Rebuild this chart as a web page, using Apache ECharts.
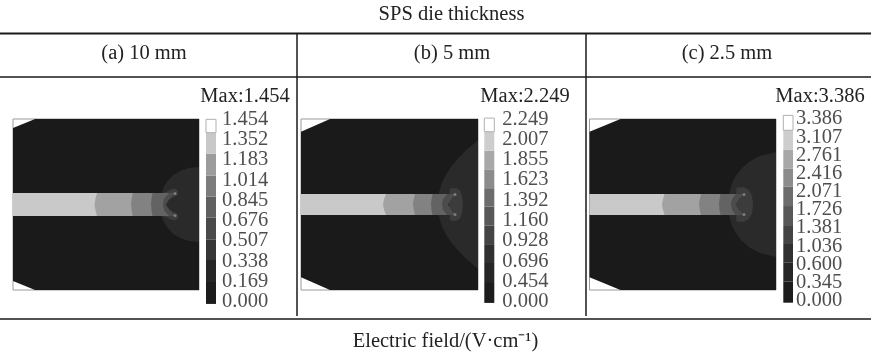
<!DOCTYPE html>
<html><head><meta charset="utf-8">
<style>html,body{margin:0;padding:0;background:#fff}#c{width:871px;height:354px;filter:blur(0.45px)}</style>
<script src="https://cdn.jsdelivr.net/npm/echarts@6/dist/echarts.min.js"></script>
</head><body><div id="c"></div>
<script>
// ---------- text ----------
const tableTitle = 'SPS die thickness';
const columnHeads = ['(a) 10 mm', '(b) 5 mm', '(c) 2.5 mm'];
const fieldCaption = 'Electric field/(V·cm⁻¹)';
const maxLabels = ['Max:1.454', 'Max:2.249', 'Max:3.386'];

// ---------- colour-bar tick labels, bottom to top ----------
const ticksA = ['0.000','0.169','0.338','0.507','0.676','0.845','1.014','1.183','1.352','1.454'];
const ticksB = ['0.000','0.454','0.696','0.928','1.160','1.392','1.623','1.855','2.007','2.249'];
const ticksC = ['0.000','0.345','0.600','1.036','1.381','1.726','2.071','2.416','2.761','3.107','3.386'];

// colour-bar band edges, in tick-index units, bottom to top
const edgesA = [-0.11,1.02,2.06,3.08,4.15,5.19,6.23,7.30,8.35,9.01];
const edgesB = [-0.06,0.97,1.91,2.80,3.75,4.69,5.60,6.53,7.45,8.39,9.06];
const edgesC = [-0.11,1.05,2.09,3.12,4.16,5.21,6.27,7.28,8.32,9.38,10.2];

// band greys, bottom to top
const greysA = ['#1c1c1c','#262626','#363636','#4a4a4a','#606060','#7c7c7c','#9c9c9c','#c8c8c8','#ffffff'];
const greysB = ['#1c1c1c','#262626','#303030','#444444','#585858','#6c6c6c','#8c8c8c','#a8a8a8','#cdcdcd','#ffffff'];
const greysC = ['#1c1c1c','#262626','#303030','#444444','#585858','#6c6c6c','#8c8c8c','#a8a8a8','#cdcdcd','#ffffff'];

// ---------- field contours (upper half, mirrored about the strip axis) ----------
const C = {base:'#1a1a1a', dome:'#2a2a2a', blob:'#3c3c3c', end:'#4c4c4c', b4:'#636363', b3:'#828282', b2:'#a2a2a2', b1:'#c9c9c9', tip:'#8c8c8c'};

const hullA = [[0,0],[0,76.5],[22,85.5],[186,85.5],[186,0]];
const domeA = [[147,0],[148,10],[151,18],[155,24],[161,30],[168,34],[176,36.5],[186,37.5],[186,0]];
const blobA = [[150,0],[155,4],[160,7],[164,9],[165.5,13],[162,16],[158,15],[152,12],[150,12]];
const stripA = [[153,0],[156,5],[162,11.5],[0,11.5],[0,0]];
const bandsA = [[C.b4,150,151,156,11.5],[C.b3,138,138.5,139.5,11.5],[C.b2,118,118.7,119.7,11.5],[C.b1,81.5,82.5,84,11.5]];
const tipA = [162,11];

const hullB = [[0,0],[0,72.8],[29,85.5],[177,85.5],[177,0]];
const domeB = [[137,0],[138,12],[141,22],[145,30],[151,39],[158,47],[166,55],[177,64.5],[177,0]];
const blobB = [[148,0],[149,16],[155,16.5],[159,14],[161,9],[162,0]];
const stripB = [[147,0],[150,5],[154,10.5],[0,10.5],[0,0]];
const bandsB = [[C.b4,141,142,146,10.5],[C.b3,130,130.5,131.5,10.5],[C.b2,112,112.7,114,10.5],[C.b1,82,83,85,10.5]];
const tipB = [154,10];

const hullC = [[0,0],[0,72.8],[31,85.5],[186.5,85.5],[186.5,0]];
const domeC = [[138.5,0],[139.5,10],[142,20],[146,28],[152,36],[160,43],[170,48.5],[186.5,52.5],[186.5,0]];
const blobC = [[146,0],[147,17],[154,17.5],[159,15],[162.5,9],[163.5,0]];
const stripC = [[146,0],[149,5],[154.5,10.5],[0,10.5],[0,0]];
const bandsC = [[C.b4,141.5,142.5,146,10.5],[C.b3,129.5,130,131,10.5],[C.b2,109.5,110.3,111.5,10.5],[C.b1,72.5,73.5,75,10.5]];
const tipC = [154.5,10];

// ---------- layout ----------
const plots = [
  {l:13, r:199, hull:hullA, dome:domeA, blob:blobA, strip:stripA, bands:bandsA, tip:tipA, w:186},
  {l:301, r:478, hull:hullB, dome:domeB, blob:blobB, strip:stripB, bands:bandsB, tip:tipB, w:177},
  {l:589.5, r:776, hull:hullC, dome:domeC, blob:blobC, strip:stripC, bands:bandsC, tip:tipC, w:186.5}
];
const bars = [
  {l:206, r:216, top:119.5, bot:301.7, ticks:ticksA, edges:edgesA, greys:greysA, gap:6},
  {l:484.3, r:494.3, top:119.3, bot:301.7, ticks:ticksB, edges:edgesB, greys:greysB, gap:8},
  {l:783.3, r:793, top:119, bot:300.7, ticks:ticksC, edges:edgesC, greys:greysC, gap:3}
];
const W = 871, H = 354, FONT = '"Liberation Serif","Times New Roman",serif', INK = '#222', FS = 20.5;

function mirror(half){
  const lower = half.slice().reverse().map(p => [p[0], -p[1]]);
  return half.concat(lower);
}
function bandPoly(b){ // [grey, centre x, mid x, edge x, half-height]
  return mirror([[b[1],0],[b[2],b[4]/2],[b[3],b[4]],[0,b[4]],[0,0]]);
}
const grid = [], xAxis = [], yAxis = [], series = [];
plots.forEach((p,i)=>{
  grid.push({left:p.l, width:p.r-p.l, top:119, height:171, show:true, backgroundColor:'#fff', borderColor:'#9a9a9a', borderWidth:1});
  xAxis.push({gridIndex:i, type:'value', min:0, max:p.w, show:false});
  yAxis.push({gridIndex:i, type:'value', min:-85.5, max:85.5, show:false});
  const shapes = [
    {pts:mirror(p.hull), fill:C.base},
    {pts:mirror(p.dome), fill:C.dome},
    {pts:mirror(p.blob), fill:C.blob},
    {pts:mirror(p.strip), fill:C.end}
  ].concat(p.bands.map(b=>({pts:bandPoly(b), fill:b[0]})));
  series.push({
    type:'custom', xAxisIndex:i, yAxisIndex:i, coordinateSystem:'cartesian2d', silent:true,
    data:shapes.map((s,k)=>[k]), encode:{x:[],y:[]},
    renderItem:(params,api)=>{
      const s = shapes[params.dataIndex];
      return {type:'polygon', shape:{points:s.pts.map(q=>api.coord(q))}, style:{fill:s.fill, stroke:null}};
    }
  });
  series.push({
    type:'scatter', xAxisIndex:i, yAxisIndex:i, silent:true, symbol:'circle', symbolSize:3,
    itemStyle:{color:C.tip}, data:[[p.tip[0],p.tip[1]],[p.tip[0],-p.tip[1]]]
  });
});
bars.forEach((b,i)=>{
  const g = plots.length + i;
  grid.push({left:b.l, width:b.r-b.l, top:b.top, height:b.bot-b.top});
  xAxis.push({gridIndex:g, type:'value', min:0, max:1, show:false});
  yAxis.push({gridIndex:g, type:'value', min:0, max:b.ticks.length-1, interval:1, show:false});
  series.push({
    type:'custom', xAxisIndex:g, yAxisIndex:g, coordinateSystem:'cartesian2d', silent:true,
    data:b.greys.map((c,k)=>[k]), encode:{x:[],y:[]},
    renderItem:(params,api)=>{
      const k = params.dataIndex;
      const a = api.coord([0,b.edges[k+1]]), z = api.coord([1,b.edges[k]]);
      return {type:'rect', shape:{x:a[0],y:a[1],width:z[0]-a[0],height:z[1]-a[1]},
        style:{fill:b.greys[k], stroke:'#b0b0b0', lineWidth:k===b.greys.length-1?1:0}};
    }
  });
  series.push({
    type:'scatter', xAxisIndex:g, yAxisIndex:g, silent:true, symbolSize:1,
    itemStyle:{color:'transparent'},
    data:b.ticks.map((t,k)=>({value:[1,k], name:t})),
    label:{show:true, position:'right', distance:b.gap-0.5, color:INK, fontFamily:FONT, fontSize:FS,
      formatter:o=>o.name},
    labelLayout:{hideOverlap:false}
  });
});
function txt(t,x,y,align){
  return {type:'text', x:x, y:y, silent:true, z:10,
    style:{text:t, fill:INK, font:FS+'px '+FONT, textAlign:align||'center', textVerticalAlign:'middle'}};
}
function line(x1,y1,x2,y2,w){
  return {type:'line', silent:true, z:10, shape:{x1,y1,x2,y2}, style:{stroke:'#1a1a1a', lineWidth:w}};
}
const graphicEls = [
  txt(tableTitle,451.5,15),
  txt(columnHeads[0],144,54), txt(columnHeads[1],452,54), txt(columnHeads[2],727,54),
  txt(maxLabels[0],245,97), txt(maxLabels[1],525,97), txt(maxLabels[2],820,97),
  txt(fieldCaption,445.5,342),
  line(0,33.5,871,33.5,2), line(0,77,871,77,1.5), line(0,319,871,319,1.5),
  line(297,33,297,316,1.5), line(586,33,586,316,1.5)
];
const chart = echarts.init(document.getElementById('c'), null, {renderer:'canvas', width:W, height:H});
chart.setOption({animation:false, backgroundColor:'#fff', grid, xAxis, yAxis, series, graphic:{elements:graphicEls}});
</script></body></html>
